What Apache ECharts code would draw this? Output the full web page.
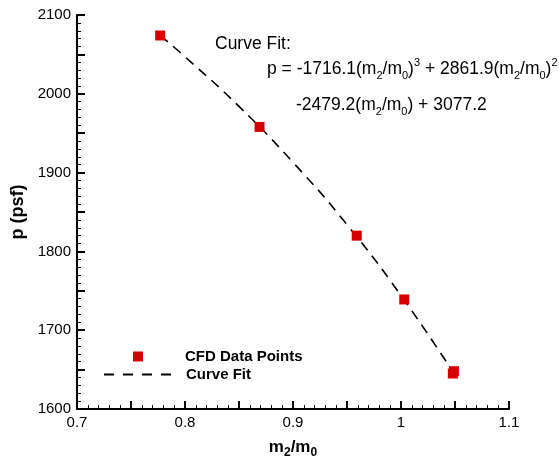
<!DOCTYPE html>
<html>
<head>
<meta charset="utf-8">
<script src="https://cdn.jsdelivr.net/npm/echarts@6/dist/echarts.min.js"></script>
<style>
html, body { margin: 0; padding: 0; background: #fff; }
#chart { width: 559px; height: 460px; }
</style>
</head>
<body>
<div id="chart"></div>
<script>
// CFD points (m2/m0, p)
var cfdX = [0.777, 0.869, 0.959, 1.003, 1.048, 1.049];
var cfdP = [2074, 1958, 1820, 1739, 1645, 1648];

// curve fit
var fitX = [0.777, 0.80, 0.85, 0.90, 0.95, 1.00, 1.05];
var fitP = [2074, 2047, 1984, 1913, 1834, 1744, 1643];

var xTicks = ['0.7', '0.8', '0.9', '1', '1.1'];
var yTicks = ['1600', '1700', '1800', '1900', '2000', '2100'];

var font = 'Liberation Sans, Arial, Helvetica, sans-serif';

function pairs(xs, ys) {
    var out = [];
    for (var i = 0; i < xs.length; i++) out.push([xs[i], ys[i]]);
    return out;
}

var richText = {
    t: { fontSize: 17.5, lineHeight: 24, fontFamily: font, color: '#000' },
    sub: { fontSize: 11, lineHeight: 11, verticalAlign: 'bottom', fontFamily: font, color: '#000' },
    sup: { fontSize: 11, lineHeight: 11, verticalAlign: 'top', fontFamily: font, color: '#000' }
};
var richBold = {
    b: { fontSize: 17, lineHeight: 24, fontWeight: 'bold', fontFamily: font, color: '#000' },
    sub: { fontSize: 12, lineHeight: 12, verticalAlign: 'bottom', fontWeight: 'bold', fontFamily: font, color: '#000' }
};
var legendText = { fontSize: 15, fontWeight: 'bold', fontFamily: font, color: '#000' };

var chart = echarts.init(document.getElementById('chart'));

var option = {
    animation: false,
    backgroundColor: '#fff',
    grid: { left: 77, right: 50, top: 15, bottom: 51, containLabel: false, outerBoundsMode: 'none' },
    legend: [
        {
            left: 133,
            top: 349,
            padding: 0,
            itemWidth: 10,
            itemHeight: 10,
            textStyle: Object.assign({ padding: [0, 0, 0, 37] }, legendText),
            data: [{ name: 'CFD Data Points', icon: 'rect' }]
        },
        {
            left: 103,
            top: 367,
            padding: 0,
            itemWidth: 68,
            itemHeight: 10,
            textStyle: Object.assign({ padding: [0, 0, 0, 9] }, legendText),
            data: [{
                name: 'Curve Fit',
                itemStyle: { color: 'rgba(0,0,0,0)', borderColor: 'rgba(0,0,0,0)', borderWidth: 0 },
                lineStyle: { color: '#000', width: 2, type: [10, 9] }
            }]
        }
    ],
    xAxis: {
        type: 'value',
        min: 0.7,
        max: 1.1,
        interval: 0.05,
        name: '{b|m}{sub|2}{b|/m}{sub|0}',
        nameLocation: 'middle',
        nameGap: 26,
        nameTextStyle: { rich: richBold },
        axisLine: { lineStyle: { color: '#000', width: 2 } },
        axisTick: { inside: true, length: 8, lineStyle: { color: '#000', width: 2 } },
        minorTick: { show: true, splitNumber: 5, length: 4, lineStyle: { color: '#000', width: 1 } },
        splitLine: { show: false },
        axisLabel: {
            fontSize: 15, fontFamily: font, color: '#000', margin: 6,
            formatter: function (v) {
                var k = Math.round(v * 100);
                if (k % 10 !== 0) return '';
                return xTicks[(k - 70) / 10];
            }
        }
    },
    yAxis: {
        type: 'value',
        min: 1600,
        max: 2100,
        interval: 50,
        name: 'p (psf)',
        nameLocation: 'middle',
        nameGap: 45,
        nameRotate: 90,
        nameTextStyle: { fontSize: 18, fontWeight: 'bold', fontFamily: font, color: '#000' },
        axisLine: { lineStyle: { color: '#000', width: 2 } },
        axisTick: { inside: true, length: 8, lineStyle: { color: '#000', width: 2 } },
        minorTick: { show: true, splitNumber: 5, length: 4, lineStyle: { color: '#000', width: 1 } },
        splitLine: { show: false },
        axisLabel: {
            fontSize: 15, fontFamily: font, color: '#000', margin: 6,
            formatter: function (v) {
                if (v % 100 !== 0) return '';
                return yTicks[(v - 1600) / 100];
            }
        }
    },
    series: [
        {
            name: 'Curve Fit',
            type: 'line',
            data: pairs(fitX, fitP),
            smooth: true,
            showSymbol: false,
            symbol: 'none',
            z: 2,
            lineStyle: { color: '#000', width: 1.6, type: [10, 7] },
            itemStyle: { color: '#000' }
        },
        {
            name: 'CFD Data Points',
            type: 'scatter',
            data: pairs(cfdX, cfdP),
            symbol: 'rect',
            symbolSize: 10,
            z: 3,
            itemStyle: { color: '#d40000', opacity: 1 }
        }
    ],
    graphic: [
        {
            type: 'text', left: 215, top: 35,
            style: { text: '{t|Curve Fit:}', rich: richText }
        },
        {
            type: 'text', left: 267, top: 57,
            style: {
                text: '{t|p = -1716.1(m}{sub|2}{t|/m}{sub|0}{t|)}{sup|3}{t| + 2861.9(m}{sub|2}{t|/m}{sub|0}{t|)}{sup|2}',
                rich: richText
            }
        },
        {
            type: 'text', left: 296, top: 96,
            style: {
                text: '{t|-2479.2(m}{sub|2}{t|/m}{sub|0}{t|) + 3077.2}',
                rich: richText
            }
        }
    ]
};

chart.setOption(option);
</script>
</body>
</html>
